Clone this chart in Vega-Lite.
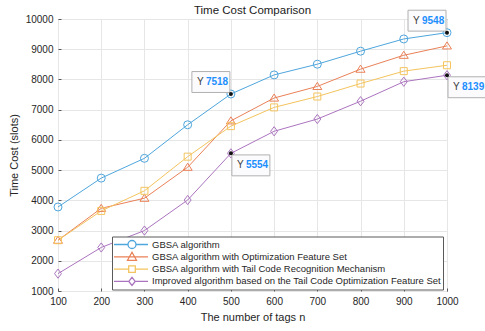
{
  "$schema": "https://vega.github.io/schema/vega-lite/v6.json",
  "width": 389,
  "height": 272,
  "autosize": {"type": "none"},
  "padding": {"left": 58, "top": 19, "right": 38, "bottom": 40},
  "title": {"text": "Time Cost Comparison", "fontSize": 11.5, "fontWeight": "normal", "font": "Liberation Sans", "color": "#1a1a1a", "offset": -8},
  "config": {
    "view": {"stroke": "#5a5a5a", "strokeWidth": 1},
    "axis": {"labelFont": "Liberation Sans", "titleFont": "Liberation Sans", "labelFontSize": 10, "titleFontSize": 11, "titleFontWeight": "normal", "labelColor": "#262626", "titleColor": "#262626", "gridColor": "#e6e6e6", "domain": false, "tickColor": "#5a5a5a", "tickSize": -3, "labelPadding": 8, "labelFlush": false, "labelOverlap": false}
  },
  "datasets": {
    "tips": [
      {"n": 500, "cost": 7518},
      {"n": 1000, "cost": 9548},
      {"n": 500, "cost": 5554},
      {"n": 1000, "cost": 8139}
    ]
  },
  "data": {"values": [
    {"series": "GBSA algorithm", "n": 100, "cost": 3780},
    {"series": "GBSA algorithm", "n": 200, "cost": 4735},
    {"series": "GBSA algorithm", "n": 300, "cost": 5390},
    {"series": "GBSA algorithm", "n": 400, "cost": 6500},
    {"series": "GBSA algorithm", "n": 500, "cost": 7518},
    {"series": "GBSA algorithm", "n": 600, "cost": 8150},
    {"series": "GBSA algorithm", "n": 700, "cost": 8505},
    {"series": "GBSA algorithm", "n": 800, "cost": 8935},
    {"series": "GBSA algorithm", "n": 900, "cost": 9340},
    {"series": "GBSA algorithm", "n": 1000, "cost": 9548},
    {"series": "GBSA algorithm with Optimization Feature Set", "n": 100, "cost": 2680},
    {"series": "GBSA algorithm with Optimization Feature Set", "n": 200, "cost": 3735},
    {"series": "GBSA algorithm with Optimization Feature Set", "n": 300, "cost": 4070},
    {"series": "GBSA algorithm with Optimization Feature Set", "n": 400, "cost": 5095},
    {"series": "GBSA algorithm with Optimization Feature Set", "n": 500, "cost": 6630},
    {"series": "GBSA algorithm with Optimization Feature Set", "n": 600, "cost": 7385},
    {"series": "GBSA algorithm with Optimization Feature Set", "n": 700, "cost": 7770},
    {"series": "GBSA algorithm with Optimization Feature Set", "n": 800, "cost": 8340},
    {"series": "GBSA algorithm with Optimization Feature Set", "n": 900, "cost": 8800},
    {"series": "GBSA algorithm with Optimization Feature Set", "n": 1000, "cost": 9110},
    {"series": "GBSA algorithm with Tail Code Recognition Mechanism", "n": 100, "cost": 2680},
    {"series": "GBSA algorithm with Tail Code Recognition Mechanism", "n": 200, "cost": 3650},
    {"series": "GBSA algorithm with Tail Code Recognition Mechanism", "n": 300, "cost": 4315},
    {"series": "GBSA algorithm with Tail Code Recognition Mechanism", "n": 400, "cost": 5445},
    {"series": "GBSA algorithm with Tail Code Recognition Mechanism", "n": 500, "cost": 6455},
    {"series": "GBSA algorithm with Tail Code Recognition Mechanism", "n": 600, "cost": 7075},
    {"series": "GBSA algorithm with Tail Code Recognition Mechanism", "n": 700, "cost": 7435},
    {"series": "GBSA algorithm with Tail Code Recognition Mechanism", "n": 800, "cost": 7865},
    {"series": "GBSA algorithm with Tail Code Recognition Mechanism", "n": 900, "cost": 8275},
    {"series": "GBSA algorithm with Tail Code Recognition Mechanism", "n": 1000, "cost": 8470},
    {"series": "Improved algorithm based on the Tail Code Optimization Feature Set", "n": 100, "cost": 1575},
    {"series": "Improved algorithm based on the Tail Code Optimization Feature Set", "n": 200, "cost": 2440},
    {"series": "Improved algorithm based on the Tail Code Optimization Feature Set", "n": 300, "cost": 3000},
    {"series": "Improved algorithm based on the Tail Code Optimization Feature Set", "n": 400, "cost": 4010},
    {"series": "Improved algorithm based on the Tail Code Optimization Feature Set", "n": 500, "cost": 5554},
    {"series": "Improved algorithm based on the Tail Code Optimization Feature Set", "n": 600, "cost": 6285},
    {"series": "Improved algorithm based on the Tail Code Optimization Feature Set", "n": 700, "cost": 6690},
    {"series": "Improved algorithm based on the Tail Code Optimization Feature Set", "n": 800, "cost": 7280},
    {"series": "Improved algorithm based on the Tail Code Optimization Feature Set", "n": 900, "cost": 7925},
    {"series": "Improved algorithm based on the Tail Code Optimization Feature Set", "n": 1000, "cost": 8139}
  ]},
  "encoding": {
    "x": {"field": "n", "type": "quantitative", "scale": {"domain": [100, 1000], "nice": false, "zero": false},
      "axis": {"title": "The number of tags n", "format": "d", "values": [100, 200, 300, 400, 500, 600, 700, 800, 900, 1000], "titlePadding": 5}},
    "y": {"field": "cost", "type": "quantitative", "scale": {"domain": [1000, 10000], "nice": false, "zero": false},
      "axis": {"title": "Time Cost (slots)", "format": "d", "values": [1000, 2000, 3000, 4000, 5000, 6000, 7000, 8000, 9000, 10000], "titlePadding": 6}}
  },
  "layer": [
    {
      "mark": {"type": "line", "strokeWidth": 1},
      "encoding": {
        "color": {"field": "series", "type": "nominal",
          "scale": {"domain": ["GBSA algorithm", "GBSA algorithm with Optimization Feature Set", "GBSA algorithm with Tail Code Recognition Mechanism", "Improved algorithm based on the Tail Code Optimization Feature Set"],
                    "range": ["#4fa6dd", "#ea8158", "#f4c45e", "#ab74bf"]}}
      }
    },
    {
      "transform": [{"filter": "datum.series == 'GBSA algorithm'"}],
      "mark": {"type": "point", "shape": "circle", "filled": false, "size": 64, "strokeWidth": 1, "opacity": 1},
      "encoding": {"color": {"field": "series", "type": "nominal"}}
    },
    {
      "transform": [{"filter": "datum.series == 'GBSA algorithm with Optimization Feature Set'"}],
      "mark": {"type": "point", "shape": "M0,-0.85L0.95,0.65L-0.95,0.65Z", "filled": false, "size": 90, "strokeWidth": 1, "opacity": 1},
      "encoding": {"color": {"field": "series", "type": "nominal"}}
    },
    {
      "transform": [{"filter": "datum.series == 'GBSA algorithm with Tail Code Recognition Mechanism'"}],
      "mark": {"type": "point", "shape": "square", "filled": false, "size": 49, "strokeWidth": 1, "opacity": 1},
      "encoding": {"color": {"field": "series", "type": "nominal"}}
    },
    {
      "transform": [{"filter": "datum.series == 'Improved algorithm based on the Tail Code Optimization Feature Set'"}],
      "mark": {"type": "point", "shape": "M0,-1L0.75,0L0,1L-0.75,0Z", "filled": false, "size": 85, "strokeWidth": 1, "opacity": 1},
      "encoding": {"color": {"field": "series", "type": "nominal"}}
    },
    {
      "mark": {"type": "point", "filled": false, "opacity": 0},
      "encoding": {
        "color": {"field": "series", "type": "nominal",
          "legend": {"orient": "none", "legendX": 54, "legendY": 217.5, "title": null, "padding": 2, "symbolSize": 100, "labelOffset": 26,
            "labelFontSize": 9.5, "labelFont": "Liberation Sans", "labelColor": "#262626", "rowPadding": 0.3, "clipHeight": 12, "fillColor": "white",
            "strokeColor": "#5a5a5a", "symbolStrokeWidth": 1.3, "labelLimit": 0,
            "encode": {"symbols": {"update": {"opacity": {"value": 1}, "size": {"value": 100}, "strokeWidth": {"value": 1.3}}}}}},
        "shape": {"field": "series", "type": "nominal",
          "scale": {"domain": ["GBSA algorithm", "GBSA algorithm with Optimization Feature Set", "GBSA algorithm with Tail Code Recognition Mechanism", "Improved algorithm based on the Tail Code Optimization Feature Set"],
            "range": [
              "M-1.2,0H1.6M3.2,0H5.6M3.2,0A0.8,0.8,0,1,1,1.6,0A0.8,0.8,0,1,1,3.2,0",
              "M-1.2,0H5.6M2.4,-0.9L3.3,0.7L1.5,0.7Z",
              "M-1.2,0H1.74M3.06,0H5.6M1.74,-0.66H3.06V0.66H1.74Z",
              "M-1.2,0H1.76M3.04,0H5.6M2.4,-0.82L3.04,0L2.4,0.82L1.76,0Z"
            ]},
          "legend": {"orient": "none", "legendX": 54, "legendY": 217.5, "title": null}}
      }
    },
    {
      "data": {"name": "tips"},
      "transform": [{"filter": "datum.cost == 7518 || datum.cost == 9548"}],
      "mark": {"type": "point", "shape": "M-1,-0.55H1V0.55H-1Z", "size": 1444, "filled": true, "fill": "#fbfbfd", "stroke": "#b0b0b0", "strokeWidth": 1, "opacity": 1, "xOffset": -20, "yOffset": -12}
    },
    {
      "data": {"name": "tips"},
      "transform": [{"filter": "datum.cost == 5554 || datum.cost == 8139"}],
      "mark": {"type": "point", "shape": "M-1,-0.55H1V0.55H-1Z", "size": 1444, "filled": true, "fill": "#fbfbfd", "stroke": "#b0b0b0", "strokeWidth": 1, "opacity": 1, "xOffset": 20, "yOffset": 12}
    },
    {
      "data": {"name": "tips"},
      "transform": [{"filter": "datum.cost == 7518 || datum.cost == 9548"}],
      "mark": {"type": "text", "text": "Y", "align": "left", "baseline": "middle", "dx": -34, "dy": -12, "fontSize": 10, "font": "Liberation Sans", "color": "#404040"}
    },
    {
      "data": {"name": "tips"},
      "transform": [{"filter": "datum.cost == 7518 || datum.cost == 9548"}],
      "mark": {"type": "text", "align": "left", "baseline": "middle", "dx": -25, "dy": -12, "fontSize": 10, "font": "Liberation Sans", "fontWeight": "bold", "color": "#1e8fff"},
      "encoding": {"text": {"field": "cost", "type": "nominal"}}
    },
    {
      "data": {"name": "tips"},
      "transform": [{"filter": "datum.cost == 5554 || datum.cost == 8139"}],
      "mark": {"type": "text", "text": "Y", "align": "left", "baseline": "middle", "dx": 6, "dy": 12, "fontSize": 10, "font": "Liberation Sans", "color": "#404040"}
    },
    {
      "data": {"name": "tips"},
      "transform": [{"filter": "datum.cost == 5554 || datum.cost == 8139"}],
      "mark": {"type": "text", "align": "left", "baseline": "middle", "dx": 15, "dy": 12, "fontSize": 10, "font": "Liberation Sans", "fontWeight": "bold", "color": "#1e8fff"},
      "encoding": {"text": {"field": "cost", "type": "nominal"}}
    },
    {
      "data": {"name": "tips"},
      "mark": {"type": "point", "shape": "circle", "filled": true, "color": "#111111", "size": 16, "opacity": 1}
    }
  ]
}
